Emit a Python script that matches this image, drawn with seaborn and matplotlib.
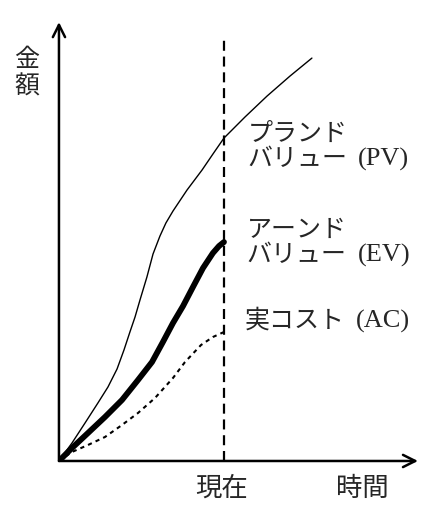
import numpy as np
import pandas as pd
import matplotlib
matplotlib.use("Agg")
import matplotlib.pyplot as plt
import seaborn as sns

# values (time: "now" = 10, amount in arbitrary units)
pv_t = [0, 0.79, 1.58, 2.36, 2.97, 3.52, 3.94, 4.30, 4.61, 4.91, 5.33, 5.70,
        6.12, 6.48, 6.91, 7.76, 8.67, 9.33, 10, 11.27, 12.61, 14.0, 15.33]
pv_v = [0, 1.8, 3.8, 5.8, 7.4, 9.2, 11.1, 12.9, 14.4, 16.1, 18.4, 20.7,
        22.5, 23.8, 25.0, 27.1, 29.1, 30.7, 32.3, 34.4, 36.5, 38.5, 40.3]

ev_t = [0, 0.79, 1.76, 2.79, 3.82, 4.79, 5.64, 6.30, 6.91, 7.52, 8.12, 8.73,
        9.33, 9.70, 10]
ev_v = [0, 1.3, 2.8, 4.4, 6.1, 8.1, 9.9, 11.9, 13.8, 15.5, 17.4, 19.3,
        20.8, 21.5, 21.9]

ac_t = [0, 0.79, 1.76, 2.79, 3.82, 4.79, 5.82, 6.91, 7.64, 8.61, 9.33, 10]
ac_v = [0, 0.9, 1.6, 2.4, 3.6, 4.8, 6.3, 8.3, 9.9, 11.6, 12.4, 12.9]

now_t = 10
x_max = 21.76
y_max = 43.9
dash_top = 42.6

sns.set_theme(style="white")
plt.rcParams["font.family"] = ["Noto Sans CJK JP", "DejaVu Sans"]

fig = plt.figure(figsize=(4.4, 5.2), dpi=100)
ax = fig.add_axes([0.134, 0.1135, 0.816, 0.844])

pv = pd.DataFrame({"t": pv_t, "v": pv_v})
ev = pd.DataFrame({"t": ev_t, "v": ev_v})
ac = pd.DataFrame({"t": ac_t, "v": ac_v})

sns.lineplot(data=pv, x="t", y="v", ax=ax, color="black", lw=1.0, estimator=None)
sns.lineplot(data=ev, x="t", y="v", ax=ax, color="black", lw=4.2, estimator=None,
             solid_capstyle="round", solid_joinstyle="round")
sns.lineplot(data=ac, x="t", y="v", ax=ax, color="black", lw=1.5, estimator=None,
             dashes=False, linestyle=(0, (2, 2.0)))

ax.axvline(now_t, ymax=dash_top / y_max, color="black", lw=1.6,
           linestyle=(0, (4.5, 2.6)))

ax.set_xlim(0, x_max)
ax.set_ylim(0, y_max)
ax.set_xticks([])
ax.set_yticks([])
ax.set_xlabel("")
ax.set_ylabel("")
for s in ax.spines.values():
    s.set_visible(False)

arrow = dict(arrowstyle="->", lw=1.8, color="black", mutation_scale=22,
             shrinkA=0, shrinkB=0)
ax.annotate("", xy=(1, 0), xytext=(0, 0), xycoords="axes fraction", arrowprops=arrow)
ax.annotate("", xy=(0, 1), xytext=(0, 0), xycoords="axes fraction", arrowprops=arrow)

fs = 18
serif = "Liberation Serif"
jx = 11.45
lx = 18.12
ax.text(jx, 32.0, "プランド", fontsize=fs, va="baseline", ha="left")
ax.text(jx, 29.55, "バリュー", fontsize=fs, va="baseline", ha="left")
ax.text(lx, 29.55, "(PV)", fontsize=fs + 1, family=serif, va="baseline", ha="left")
ax.text(jx - 0.06, 22.45, "アーンド", fontsize=fs, va="baseline", ha="left")
ax.text(jx - 0.06, 19.95, "バリュー", fontsize=fs, va="baseline", ha="left")
ax.text(lx, 19.95, "(EV)", fontsize=fs + 1, family=serif, va="baseline", ha="left")
ax.text(jx - 0.18, 13.3, "実コスト", fontsize=fs, va="baseline", ha="left")
ax.text(lx - 0.12, 13.3, "(AC)", fontsize=fs + 1, family=serif, va="baseline", ha="left")

ax.text(now_t - 0.12, -2.7, "現在", fontsize=19, va="center", ha="center")
ax.text(18.36, -2.7, "時間", fontsize=19, va="center", ha="center")
ax.text(-1.94, 40.1, "金", fontsize=18, va="center", ha="center")
ax.text(-1.94, 37.5, "額", fontsize=18, va="center", ha="center")

fig.savefig("out.png", dpi=100, facecolor="white")
